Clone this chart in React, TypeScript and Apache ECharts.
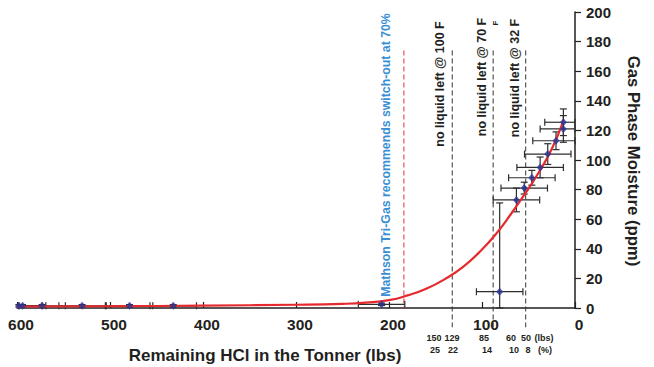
import React, { useEffect, useRef } from 'react';
import * as echarts from 'echarts';

// Fitted curve (remaining lbs, ppm)
const curveLbs = [600, 500, 400, 300, 250, 225, 200, 180, 160, 140, 120, 100, 85, 70, 55, 40, 25, 12.5];
const curvePpm = [1.0, 1.2, 1.6, 2.2, 2.8, 3.6, 5.3, 8.5, 13, 19.5, 28, 39.5, 50, 62.5, 76, 90.5, 107.5, 126.5];

// Measured points with error bars
const pointLbs = [598, 594, 573, 530, 479, 432, 208, 81, 63, 54.6, 46.4, 37.5, 29.3, 20.4, 12.5, 12.5];
const pointPpm = [1.5, 1.5, 1.5, 1.5, 1.5, 1.5, 2.5, 11, 73, 81, 88, 95, 104, 113, 121, 125.5];
const pointXErr = [25, 25, 25, 25, 25, 25, 25, 25, 25, 25, 25, 25, 25, 25, 25, 20];
const pointYErrLow = [0.8, 0.8, 0.8, 0.8, 0.8, 0.8, 0.8, 11, 8, 4, 5, 7, 7, 6, 9, 9];
const pointYErrHigh = [0.8, 0.8, 0.8, 0.8, 0.8, 0.8, 0.8, 60, 8, 4, 5, 7, 7, 6, 9, 9];

// Vertical guide lines (lbs)
const switchOutLbs = [184];
const noLiquidLbs = [132, 88, 53];

// Annotation texts
const switchText = 'Mathson Tri-Gas recommends switch-out at 70%';
const noLiquidTexts = ['no liquid left @ 100 F', 'no liquid left @ 70 F', 'no liquid left @ 32 F'];
const lbsRow = ['150', '129', '85', '60', '50', '(lbs)'];
const pctRow = ['25', '22', '14', '10', '8', '(%)'];

const xAxisName = 'Remaining HCl in the Tonner (lbs)';
const yAxisName = 'Gas Phase Moisture (ppm)';

const FONT = '"Liberation Sans", Arial, Helvetica, sans-serif';
const INK = '#231f20';
const RED = '#e52a2e';
const BLUE = '#2b3593';

export default function App() {
  const ref = useRef<HTMLDivElement>(null);

  useEffect(() => {
    if (!ref.current) return;
    const chart = echarts.init(ref.current, undefined, { renderer: 'svg' });

    const curveData = curveLbs.map((x, i) => [x, curvePpm[i]]);
    const pointData = pointLbs.map((x, i) => [x, pointPpm[i]]);
    const errData = pointLbs.map((x, i) => [x, pointPpm[i], pointXErr[i], pointYErrLow[i], pointYErrHigh[i]]);
    const guideData = [
      ...switchOutLbs.map((x) => [x, 174, 0, 1]),
      ...noLiquidLbs.map((x) => [x, 174, -13, 0]),
    ];

    const lbsX = [434, 452, 484, 511, 526, 544];
    const pctX = [435, 453, 487, 514, 528, 545];

    const graphic: any[] = [
      {
        type: 'text', x: 386, y: 155, rotation: Math.PI / 2,
        style: { text: switchText, fill: '#3a8fd4', fontFamily: FONT, fontWeight: 'bold', fontSize: 12.3, align: 'center', verticalAlign: 'middle' },
      },
      ...noLiquidTexts.map((t, i) => ({
        type: 'text', x: [440, 482, 515][i], y: [84, 77, 78][i], rotation: Math.PI / 2,
        style: { text: t, fill: INK, fontFamily: FONT, fontWeight: 'bold', fontSize: 12.5, align: 'center', verticalAlign: 'middle' },
      })),
      {
        type: 'text', x: 495, y: 23, rotation: Math.PI / 2,
        style: { text: 'F', fill: INK, fontFamily: FONT, fontWeight: 'bold', fontSize: 8, align: 'center', verticalAlign: 'middle' },
      },
      ...lbsRow.map((t, i) => ({
        type: 'text', x: lbsX[i], y: 337.5,
        style: { text: t, fill: INK, fontFamily: FONT, fontWeight: 'bold', fontSize: 9, align: 'center', verticalAlign: 'middle' },
      })),
      ...pctRow.map((t, i) => ({
        type: 'text', x: pctX[i], y: 349.5,
        style: { text: t, fill: INK, fontFamily: FONT, fontWeight: 'bold', fontSize: 9, align: 'center', verticalAlign: 'middle' },
      })),
      {
        type: 'text', x: 265, y: 355,
        style: { text: xAxisName, fill: INK, fontFamily: FONT, fontWeight: 'bold', fontSize: 17, align: 'center', verticalAlign: 'middle' },
      },
      {
        type: 'text', x: 633, y: 161, rotation: -Math.PI / 2,
        style: { text: yAxisName, fill: INK, fontFamily: FONT, fontWeight: 'bold', fontSize: 16.7, align: 'center', verticalAlign: 'middle' },
      },
    ];

    chart.setOption({
      animation: false,
      backgroundColor: '#ffffff',
      grid: { left: 17, right: 79, top: 12, bottom: 59 },
      xAxis: {
        type: 'value', inverse: true, min: 0, max: 600, interval: 100,
        axisLine: { show: true, onZero: false, lineStyle: { color: INK, width: 1.5 } },
        axisTick: { show: true, inside: true, length: 6, lineStyle: { color: INK, width: 1.2 } },
        axisLabel: { color: INK, fontFamily: FONT, fontWeight: 'bold', fontSize: 15.5, margin: 8, padding: [0, 0, 0, 8] },
        splitLine: { show: false },
      },
      yAxis: {
        type: 'value', position: 'right', min: 0, max: 200, interval: 20,
        axisLine: { show: true, lineStyle: { color: INK, width: 1.5 } },
        axisTick: { show: true, inside: false, length: 6, lineStyle: { color: INK, width: 1.2 } },
        axisLabel: { color: INK, fontFamily: FONT, fontWeight: 'bold', fontSize: 15, margin: 11 },
        splitLine: { show: false },
      },
      graphic,
      series: [
        {
          type: 'custom', name: 'guides', clip: false, z: 1,
          data: guideData,
          renderItem: (params: any, api: any) => {
            const x = api.value(0);
            const top = api.coord([x, api.value(1)]);
            const bot = api.coord([x, api.value(2)]);
            const isRed = api.value(3) === 1;
            return {
              type: 'line',
              shape: { x1: top[0], y1: top[1], x2: bot[0], y2: bot[1] },
              style: { stroke: isRed ? RED : '#333333', lineWidth: 1, lineDash: [5, 3] },
            };
          },
        },
        {
          type: 'custom', name: 'errors', clip: false, z: 2,
          data: errData,
          renderItem: (params: any, api: any) => {
            const x = api.value(0);
            const y = api.value(1);
            const xe = api.value(2);
            const lo = Math.max(0, y - api.value(3));
            const hi = y + api.value(4);
            const xl = api.coord([Math.min(600, x + xe), y]);
            const xr = api.coord([Math.max(0, x - xe), y]);
            const yb = api.coord([x, lo]);
            const yt = api.coord([x, hi]);
            const c = 3.5;
            const st = { stroke: '#2d2d2d', lineWidth: 1.2 };
            const children: any[] = [
              { type: 'line', shape: { x1: xl[0], y1: xl[1], x2: xr[0], y2: xr[1] }, style: st },
              { type: 'line', shape: { x1: xr[0], y1: xr[1] - c, x2: xr[0], y2: xr[1] + c }, style: st },
              { type: 'line', shape: { x1: yb[0], y1: yb[1], x2: yt[0], y2: yt[1] }, style: st },
              { type: 'line', shape: { x1: yt[0] - c, y1: yt[1], x2: yt[0] + c, y2: yt[1] }, style: st },
              { type: 'line', shape: { x1: yb[0] - c, y1: yb[1], x2: yb[0] + c, y2: yb[1] }, style: st },
            ];
            if (x + xe <= 600) {
              children.push({ type: 'line', shape: { x1: xl[0], y1: xl[1] - c, x2: xl[0], y2: xl[1] + c }, style: st });
            }
            return { type: 'group', children };
          },
        },
        {
          type: 'line', name: 'fit', data: curveData, smooth: 0.5, showSymbol: false, z: 3,
          lineStyle: { color: RED, width: 2.2 },
        },
        {
          type: 'scatter', name: 'measured', data: pointData, symbol: 'diamond', symbolSize: [7, 8], z: 4,
          itemStyle: { color: BLUE },
        },
      ],
    });

    return () => chart.dispose();
  }, []);

  return (
    <div
      ref={ref}
      style={{ position: 'fixed', left: 0, top: 0, width: 654, height: 367, background: '#fff' }}
    />
  );
}
